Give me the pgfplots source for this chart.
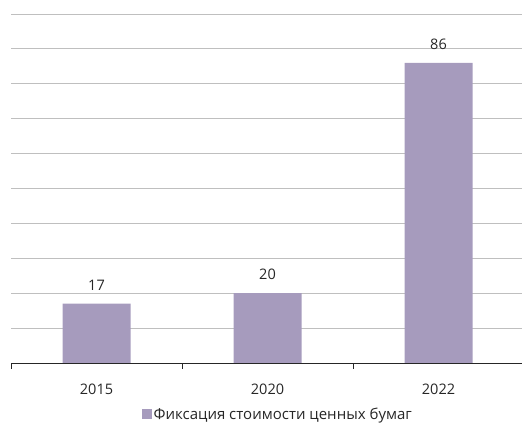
\documentclass[border=0pt]{standalone}
\usepackage{fontspec}
\setmainfont{Open Sans}
\usepackage{pgfplots}
\pgfplotsset{compat=1.18}
\definecolor{barc}{HTML}{A69BBD}
\definecolor{gridc}{HTML}{BFBFBF}
\definecolor{txt}{HTML}{262626}
\begin{document}
\begin{tikzpicture}[x=1pt,y=1pt]
\path[use as bounding box] (-11,-64) rectangle (511,363);
\begin{axis}[
  at={(0,0)}, anchor=south west,
  scale only axis, width=513pt, height=349pt,
  /pgf/number format/assume math mode=true,
  font=\fontsize{14.5}{17}\selectfont\color{txt},
  xmin=-0.5, xmax=2.5, ymin=0, ymax=100,
  axis line style={draw=none},
  axis x line*=bottom,
  ytick={10,20,...,100}, yticklabels={},
  ymajorgrids, major grid style={gridc, line width=0.8pt},
  major y tick style={draw=none},
  xtick={-0.5,0.5,1.5,2.5}, x tick label as interval,
  xticklabels={2015,2020,2022},
  major x tick style={draw=txt, line width=0.6pt},
  major tick length=6pt, tick align=outside,
  xticklabel style={yshift=-11pt},
  ybar, bar width=68pt,
  nodes near coords,
  every node near coord/.append style={font=\fontsize{14.5}{17}\selectfont\color{txt}, yshift=10pt},
  legend style={at={(0.52,-0.147)}, anchor=center, draw=none, fill=none, font=\fontsize{15}{17}\selectfont\color{txt}, inner sep=0pt},
  legend image code/.code={\fill[barc] (0pt,-5pt) rectangle (10pt,5pt);},
  clip=false,
]
\addplot[fill=barc, draw=none] coordinates {(0,17) (1,20) (2,86)};
\addlegendentry{Фиксация стоимости ценных бумаг}
\draw[txt, line width=0.8pt] (rel axis cs:0,0) -- (rel axis cs:1,0);
\end{axis}
\end{tikzpicture}
\end{document}
